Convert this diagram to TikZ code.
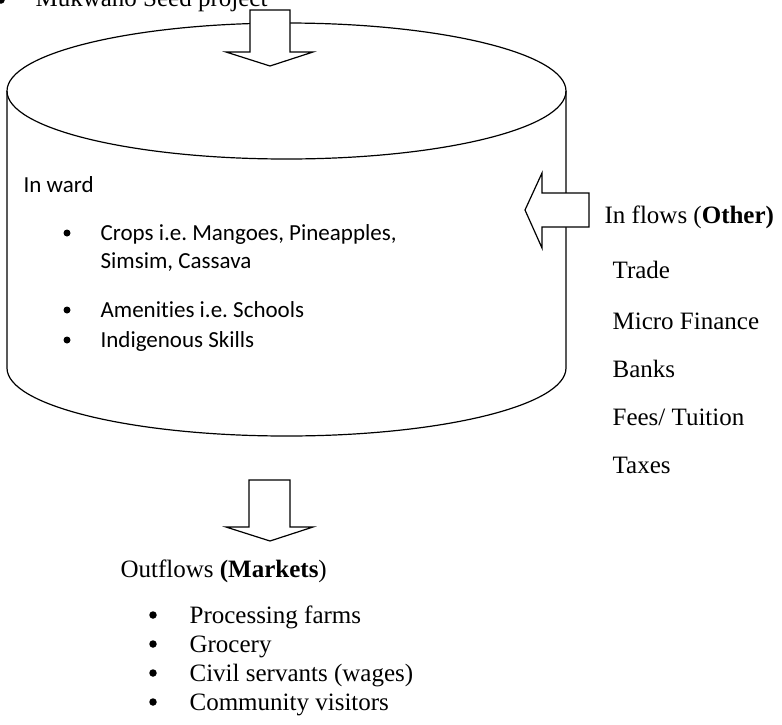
\documentclass[tikz,border=0pt]{standalone}
\usepackage{fontspec}
\setmainfont{Liberation Serif}
\newfontfamily\calibrifont[Ligatures=NoCommon]{Carlito}
\frenchspacing
\begin{document}
\begin{tikzpicture}[x=1pt,y=-1pt,line width=1.2pt,
  serif/.style={font=\fontsize{25}{30}\selectfont,inner sep=0pt,anchor=base west},
  sans/.style={font=\calibrifont\fontsize{23}{28}\selectfont,inner sep=0pt,anchor=base west},
  dot/.style={circle,fill,draw=none,inner sep=0pt,minimum size=7.5pt},
  blockarrow/.style={draw,fill=white,line join=miter}]
\useasboundingbox (0,0) rectangle (782,724);

% the ward drawn as a cylinder
\draw (286.5,91) ellipse [x radius=279.5,y radius=68];
\draw (7,91) -- (7,368) arc[start angle=180,end angle=0,x radius=279.5,y radius=68] -- (566,91);

% block arrows
\draw[blockarrow] (250,10) -- (290,10) -- (290,52) -- (313,52) -- (270,66) -- (226,52) -- (250,52) -- cycle;
\draw[blockarrow] (589,193) -- (542,193) -- (542,173) -- (525,210) -- (542,248) -- (542,227) -- (589,227) -- cycle;
\draw[blockarrow] (249,480) -- (290,480) -- (290,527) -- (313,527) -- (270,541) -- (226,527) -- (249,527) -- cycle;

% seed project heading
\node[dot] (b0) at (1,0) {};
\node[serif] (seed) at (35,6) {Mukwano Seed project};

% contents of the ward
\node[sans] (ward) at (23,192) {In ward};
\node[dot,minimum size=7pt] (b1) at (67,233) {};
\node[sans] (crops) at (100,240) {Crops i.e. Mangoes, Pineapples,};
\node[sans] (crops2) at (100,268) {Simsim, Cassava};
\node[dot,minimum size=7pt] (b2) at (67,310) {};
\node[sans] (amen) at (100,317) {Amenit\kern0pt ies i.e. Schools};
\node[dot,minimum size=7pt] (b3) at (67,340) {};
\node[sans] (skills) at (100,347) {Indigenous Skills};

% other inflows
\node[serif] (inflows) at (604,223) {In flows (\textbf{Other)}};
\node[serif] (trade) at (612,278) {Trade};
\node[serif] (micro) at (612,329) {Micro Finance};
\node[serif] (banks) at (612,377) {Banks};
\node[serif] (fees) at (612,425) {Fees/ Tuition};
\node[serif] (taxes) at (612,473) {Taxes};

% outflows
\node[serif] (outflows) at (120,577) {Outflows \textbf{(Markets})};
\node[dot] (c1) at (153,615) {};
\node[serif] (proc) at (189,623) {Processing farms};
\node[dot] (c2) at (153,644) {};
\node[serif] (groc) at (189,652) {Grocery};
\node[dot] (c3) at (153,673) {};
\node[serif] (civil) at (189,681) {Civil servants (wages)};
\node[dot] (c4) at (153,702) {};
\node[serif] (visit) at (189,710) {Community visitors};
\end{tikzpicture}
\end{document}
